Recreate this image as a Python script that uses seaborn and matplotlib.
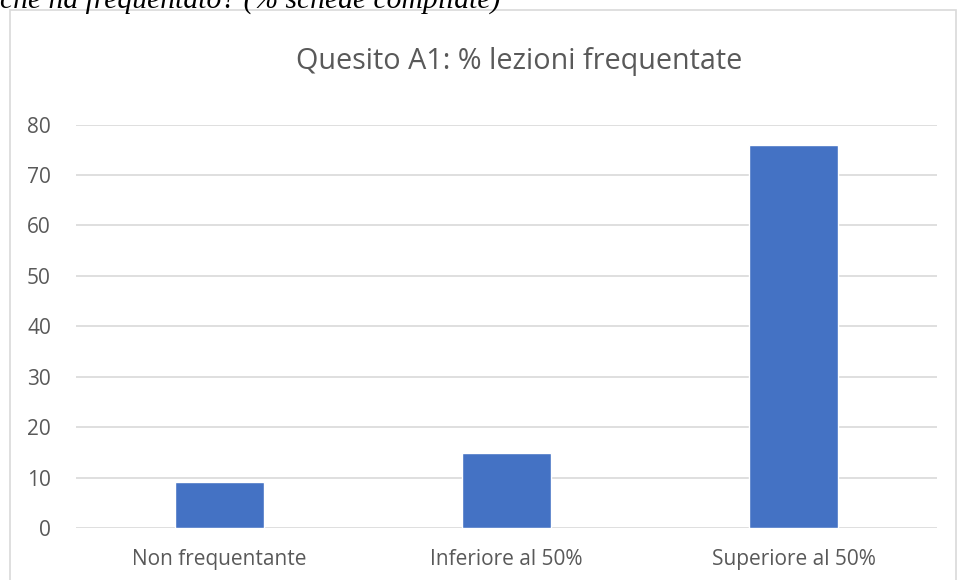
import matplotlib
matplotlib.use("Agg")
import matplotlib.pyplot as plt
import seaborn as sns
import pandas as pd
from matplotlib.patches import Rectangle

# ---------- data ----------
categories = ["Non frequentante", "Inferiore al 50%", "Superiore al 50%"]
percentuali = [9.2, 14.8, 76.0]
title = "Quesito A1: % lezioni frequentate"
caption = "che ha frequentato? (% schede compilate)"

df = pd.DataFrame({"categoria": categories, "perc": percentuali})

sns.set_style("white")
plt.rcParams["font.family"] = ["Open Sans", "DejaVu Sans"]

W, H = 957, 580
fig = plt.figure(figsize=(W / 100, H / 100), dpi=100)

# chart frame (light grey border, partly cut off)
fig.patches.append(Rectangle((10 / W, -0.05), (946 / W), 1 - 10 / H + 0.05,
                             transform=fig.transFigure, fill=False,
                             edgecolor="#d9d9d9", linewidth=1.2))

# document text above the chart, cut at the top like the reference
fig.text(0.0, 1 - 1 / H, caption, family="Liberation Serif", style="italic",
         fontsize=21.3, color="black", ha="left", va="center")

ax = fig.add_axes([76 / W, 52 / H, (937 - 76) / W, (528 - 124.5) / H])
sns.barplot(data=df, x="categoria", y="perc", color="#4472c4", width=0.313,
            saturation=1, ax=ax, zorder=3)

ax.set_ylim(0, 80)
ax.set_xlim(-0.5, 2.5)
ax.set_yticks(range(0, 81, 10))
ax.yaxis.grid(True, color="#d9d9d9", linewidth=1.2, zorder=0)
ax.set_axisbelow(True)
for s in ax.spines.values():
    s.set_visible(False)
ax.tick_params(axis="both", length=0, labelsize=15, colors="#595959")
ax.tick_params(axis="y", pad=18)
ax.tick_params(axis="x", pad=15)
ax.set_xlabel("")
ax.set_ylabel("")

fig.text(519 / W, 1 - 62 / H, title, fontsize=20.7, color="#595959",
         ha="center", va="center")

fig.savefig("out.png", dpi=100)
